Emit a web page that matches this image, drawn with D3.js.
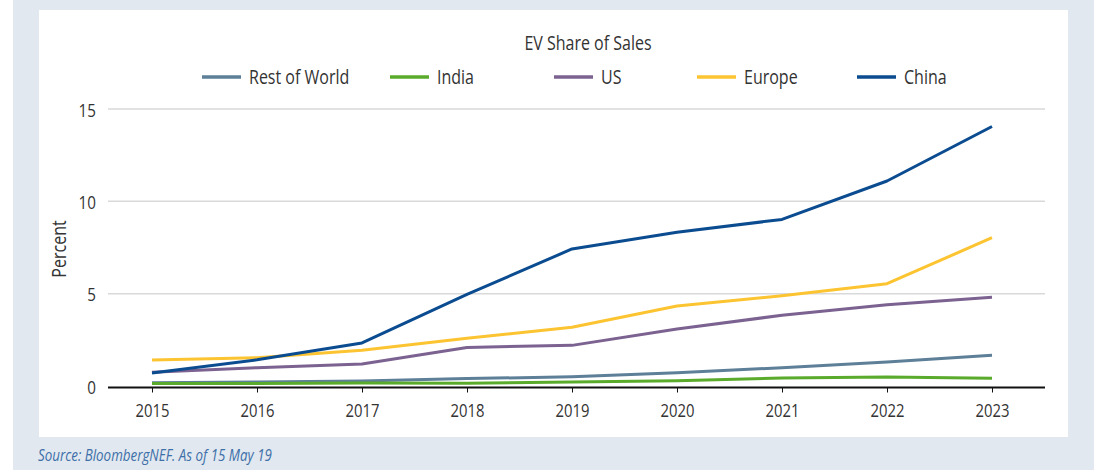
<!DOCTYPE html>
<html>
<head>
<meta charset="utf-8">
<script src="https://cdn.jsdelivr.net/npm/d3@7"></script>
<style>
  body { margin: 0; background: #fff; }
  text { font-family: "Open Sans", sans-serif; fill: #333; }
</style>
</head>
<body>
<div id="chart"></div>
<script>
// data
var years = [2015, 2016, 2017, 2018, 2019, 2020, 2021, 2022, 2023];
var seriesNames = ['Rest of World', 'India', 'US', 'Europe', 'China'];
var restOfWorld = [0.18, 0.22, 0.27, 0.40, 0.50, 0.72, 0.99, 1.30, 1.66];
var india = [0.13, 0.14, 0.16, 0.15, 0.22, 0.29, 0.43, 0.49, 0.42];
var us = [0.74, 0.99, 1.19, 2.09, 2.20, 3.09, 3.83, 4.40, 4.80];
var europe = [1.41, 1.53, 1.93, 2.58, 3.18, 4.33, 4.89, 5.54, 8.03];
var china = [0.71, 1.42, 2.33, 4.96, 7.42, 8.33, 9.02, 11.10, 14.05];
var yTicks = [0, 5, 10, 15];
var colors = ['#5d7f98', '#5aab2b', '#7b6290', '#fcc431', '#0b4c90'];

var allSeries = [restOfWorld, india, us, europe, china];

var w = 1095, h = 470;

// squeeze text horizontally to look like a condensed face
function condense(sel, k){
    sel.each(function(){
        var len = this.getComputedTextLength();
        d3.select(this)
            .attr('textLength', len * k)
            .attr('lengthAdjust', 'spacingAndGlyphs');
    });
}

var svg = d3.select('#chart')
    .append('svg')
    .attr('width', w)
    .attr('height', h);

// backgrounds
svg.append('rect')
    .attr('x', 13).attr('y', 0)
    .attr('width', 1081).attr('height', h)
    .attr('fill', '#e1e8ef');

svg.append('rect')
    .attr('x', 39).attr('y', 10)
    .attr('width', 1029).attr('height', 427)
    .attr('fill', '#ffffff');

var xScale = d3.scaleLinear()
    .domain([2015, 2023])
    .range([152, 992]);

var yScale = d3.scaleLinear()
    .domain([0, 15])
    .range([386, 109]);

// gridlines
svg.selectAll('gridline')
    .data(yTicks.filter(function(d){ return d > 0; }))
    .enter()
    .append('line')
    .attr('x1', 108)
    .attr('x2', 1045)
    .attr('y1', function(d){ return yScale(d); })
    .attr('y2', function(d){ return yScale(d); })
    .attr('stroke', '#d9d9d9')
    .attr('stroke-width', 1.5);

// y labels
var ylabs = svg.selectAll('ylabels')
    .data(yTicks)
    .enter()
    .append('text')
    .attr('x', 96)
    .attr('y', function(d){ return yScale(d); })
    .attr('dy', '0.4em')
    .style('text-anchor', 'end')
    .style('font-size', '19px')
    .text(function(d){ return d; });
condense(ylabs, 0.8);

// x axis
var xAxis = d3.axisBottom(xScale)
    .tickValues(years)
    .tickFormat(d3.format('d'))
    .tickSize(5)
    .tickPadding(11);

var gx = svg.append('g')
    .attr('transform', 'translate(0,' + (yScale(0) + 1.5) + ')')
    .call(xAxis);
gx.select('.domain').remove();
gx.selectAll('.tick line').attr('stroke', '#111');
gx.selectAll('.tick text')
    .style('font-size', '19px')
    .style('font-family', '"Open Sans", sans-serif')
    .attr('fill', '#333');
condense(gx.selectAll('.tick text'), 0.78);

svg.append('line')
    .attr('x1', 108)
    .attr('x2', 1045)
    .attr('y1', yScale(0) + 1.5)
    .attr('y2', yScale(0) + 1.5)
    .attr('stroke', '#111')
    .attr('stroke-width', 2);

// series lines
var line = d3.line()
    .x(function(d, i){ return xScale(years[i]); })
    .y(function(d){ return yScale(d); });

svg.selectAll('serieslines')
    .data(allSeries)
    .enter()
    .append('path')
    .attr('d', function(d){ return line(d); })
    .attr('fill', 'none')
    .attr('stroke', function(d, i){ return colors[i]; })
    .attr('stroke-width', 3)
    .attr('stroke-linejoin', 'round');

// title
var title = svg.append('text')
    .attr('x', 588)
    .attr('y', 50)
    .style('text-anchor', 'middle')
    .style('font-size', '20px')
    .text('EV Share of Sales');
condense(title, 0.8);

// legend
var legendX = [202, 390, 554, 697, 857];
var legend = svg.selectAll('legenditem')
    .data(seriesNames)
    .enter()
    .append('g')
    .attr('transform', function(d, i){ return 'translate(' + legendX[i] + ',77)'; });

legend.append('line')
    .attr('x1', 0).attr('x2', 39)
    .attr('y1', 0).attr('y2', 0)
    .attr('stroke', function(d, i){ return colors[i]; })
    .attr('stroke-width', 3.5);

var legText = legend.append('text')
    .attr('x', 47)
    .attr('y', 0)
    .attr('dy', '0.36em')
    .style('font-size', '20px')
    .text(function(d){ return d; });
condense(legText, 0.8);

// y title
var ytitle = svg.append('text')
    .attr('transform', 'translate(66,249) rotate(-90)')
    .style('text-anchor', 'middle')
    .style('font-size', '20px')
    .text('Percent');
condense(ytitle, 0.8);

// source
var source = svg.append('text')
    .attr('x', 38)
    .attr('y', 461)
    .style('font-size', '16.7px')
    .style('font-style', 'italic')
    .style('fill', '#3d6fa9')
    .text('Source: BloombergNEF. As of 15 May 19');
condense(source, 0.8);
</script>
</body>
</html>
